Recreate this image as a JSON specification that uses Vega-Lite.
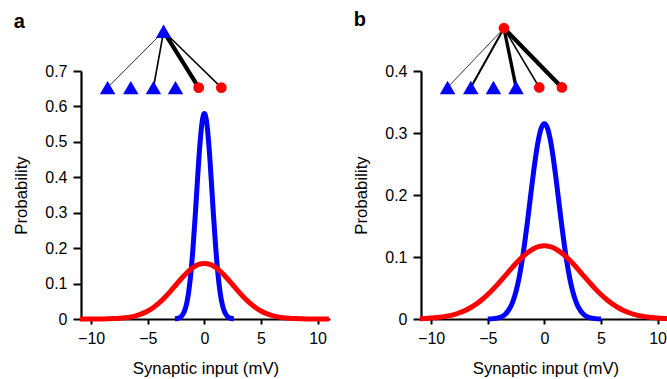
{
  "$schema": "https://vega.github.io/schema/vega-lite/v6.json",
  "padding": {"left": 13, "top": 9, "right": 0, "bottom": 0},
  "config": {
    "font": "Liberation Sans",
    "view": {"stroke": null},
    "axis": {
      "grid": false,
      "domainColor": "black",
      "domainWidth": 2.2,
      "tickColor": "black",
      "tickWidth": 2,
      "labelFont": "Liberation Sans",
      "labelFontSize": 16,
      "labelColor": "black",
      "titleFont": "Liberation Sans",
      "titleFontSize": 16.8,
      "titleFontWeight": "normal",
      "titleColor": "black"
    },
    "axisX": {"tickSize": 5, "labelPadding": 6},
    "axisY": {"tickSize": 8, "labelPadding": 6},
    "title": {"fontSize": 20, "fontWeight": "bold", "font": "Liberation Sans", "anchor": "start", "frame": "bounds", "offset": -7},
    "concat": {"spacing": 14}
  },
  "datasets": {
    "aBlue": [
      {"x": -2.6, "p": 0.0005}, {"x": -2.4, "p": 0.0013}, {"x": -2.2, "p": 0.0035}, {"x": -2.0, "p": 0.0085},
      {"x": -1.8, "p": 0.0189}, {"x": -1.6, "p": 0.0388}, {"x": -1.4, "p": 0.0732}, {"x": -1.2, "p": 0.127},
      {"x": -1.0, "p": 0.202}, {"x": -0.8, "p": 0.295}, {"x": -0.6, "p": 0.397}, {"x": -0.4, "p": 0.49},
      {"x": -0.2, "p": 0.556}, {"x": 0, "p": 0.58}, {"x": 0.2, "p": 0.556}, {"x": 0.4, "p": 0.49},
      {"x": 0.6, "p": 0.397}, {"x": 0.8, "p": 0.295}, {"x": 1.0, "p": 0.202}, {"x": 1.2, "p": 0.127},
      {"x": 1.4, "p": 0.0732}, {"x": 1.6, "p": 0.0388}, {"x": 1.8, "p": 0.0189}, {"x": 2.0, "p": 0.0085},
      {"x": 2.2, "p": 0.0035}, {"x": 2.4, "p": 0.0013}, {"x": 2.6, "p": 0.0005}
    ],
    "aRed": [
      {"x": -11, "p": 0}, {"x": -10.5, "p": 0}, {"x": -10, "p": 0.0001}, {"x": -9.5, "p": 0.0001},
      {"x": -9, "p": 0.0003}, {"x": -8.5, "p": 0.0006}, {"x": -8, "p": 0.0011}, {"x": -7.5, "p": 0.002},
      {"x": -7, "p": 0.0035}, {"x": -6.5, "p": 0.0059}, {"x": -6, "p": 0.0096}, {"x": -5.5, "p": 0.0151},
      {"x": -5, "p": 0.0226}, {"x": -4.5, "p": 0.0327}, {"x": -4, "p": 0.0454}, {"x": -3.5, "p": 0.0608},
      {"x": -3, "p": 0.0782}, {"x": -2.5, "p": 0.0967}, {"x": -2, "p": 0.1151}, {"x": -1.5, "p": 0.1319},
      {"x": -1, "p": 0.1453}, {"x": -0.5, "p": 0.154}, {"x": 0, "p": 0.157}, {"x": 0.5, "p": 0.154},
      {"x": 1, "p": 0.1453}, {"x": 1.5, "p": 0.1319}, {"x": 2, "p": 0.1151}, {"x": 2.5, "p": 0.0967},
      {"x": 3, "p": 0.0782}, {"x": 3.5, "p": 0.0608}, {"x": 4, "p": 0.0454}, {"x": 4.5, "p": 0.0327},
      {"x": 5, "p": 0.0226}, {"x": 5.5, "p": 0.0151}, {"x": 6, "p": 0.0096}, {"x": 6.5, "p": 0.0059},
      {"x": 7, "p": 0.0035}, {"x": 7.5, "p": 0.002}, {"x": 8, "p": 0.0011}, {"x": 8.5, "p": 0.0006},
      {"x": 9, "p": 0.0003}, {"x": 9.5, "p": 0.0001}, {"x": 10, "p": 0.0001}, {"x": 10.5, "p": 0},
      {"x": 11, "p": 0}
    ],
    "bBlue": [
      {"x": -5, "p": 0.0001}, {"x": -4.5, "p": 0.0006}, {"x": -4, "p": 0.0021}, {"x": -3.5, "p": 0.0069},
      {"x": -3, "p": 0.019}, {"x": -2.75, "p": 0.0298}, {"x": -2.5, "p": 0.0448}, {"x": -2.25, "p": 0.0649},
      {"x": -2, "p": 0.0904}, {"x": -1.75, "p": 0.1212}, {"x": -1.5, "p": 0.1561}, {"x": -1.25, "p": 0.1935},
      {"x": -1, "p": 0.2306}, {"x": -0.75, "p": 0.2643}, {"x": -0.5, "p": 0.2914}, {"x": -0.25, "p": 0.309},
      {"x": 0, "p": 0.315}, {"x": 0.25, "p": 0.309}, {"x": 0.5, "p": 0.2914}, {"x": 0.75, "p": 0.2643},
      {"x": 1, "p": 0.2306}, {"x": 1.25, "p": 0.1935}, {"x": 1.5, "p": 0.1561}, {"x": 1.75, "p": 0.1212},
      {"x": 2, "p": 0.0904}, {"x": 2.25, "p": 0.0649}, {"x": 2.5, "p": 0.0448}, {"x": 2.75, "p": 0.0298},
      {"x": 3, "p": 0.019}, {"x": 3.5, "p": 0.0069}, {"x": 4, "p": 0.0021}, {"x": 4.5, "p": 0.0006},
      {"x": 5, "p": 0.0001}
    ],
    "bRed": [
      {"x": -11, "p": 0.0006}, {"x": -10.5, "p": 0.0009}, {"x": -10, "p": 0.0015}, {"x": -9.5, "p": 0.0023},
      {"x": -9, "p": 0.0034}, {"x": -8.5, "p": 0.005}, {"x": -8, "p": 0.0072}, {"x": -7.5, "p": 0.0101},
      {"x": -7, "p": 0.0138}, {"x": -6.5, "p": 0.0186}, {"x": -6, "p": 0.0244}, {"x": -5.5, "p": 0.0314},
      {"x": -5, "p": 0.0395}, {"x": -4.5, "p": 0.0486}, {"x": -4, "p": 0.0586}, {"x": -3.5, "p": 0.069},
      {"x": -3, "p": 0.0796}, {"x": -2.5, "p": 0.0898}, {"x": -2, "p": 0.0991}, {"x": -1.5, "p": 0.1069},
      {"x": -1, "p": 0.113}, {"x": -0.5, "p": 0.1167}, {"x": 0, "p": 0.118}, {"x": 0.5, "p": 0.1167},
      {"x": 1, "p": 0.113}, {"x": 1.5, "p": 0.1069}, {"x": 2, "p": 0.0991}, {"x": 2.5, "p": 0.0898},
      {"x": 3, "p": 0.0796}, {"x": 3.5, "p": 0.069}, {"x": 4, "p": 0.0586}, {"x": 4.5, "p": 0.0486},
      {"x": 5, "p": 0.0395}, {"x": 5.5, "p": 0.0314}, {"x": 6, "p": 0.0244}, {"x": 6.5, "p": 0.0186},
      {"x": 7, "p": 0.0138}, {"x": 7.5, "p": 0.0101}, {"x": 8, "p": 0.0072}, {"x": 8.5, "p": 0.005},
      {"x": 9, "p": 0.0034}, {"x": 9.5, "p": 0.0023}, {"x": 10, "p": 0.0015}, {"x": 10.5, "p": 0.0009},
      {"x": 11, "p": 0.0006}
    ],
    "aNodes": [
      {"x": -8.55, "p": 0.653, "kind": "E"}, {"x": -6.5, "p": 0.653, "kind": "E"},
      {"x": -4.5, "p": 0.653, "kind": "E"}, {"x": -2.55, "p": 0.653, "kind": "E"},
      {"x": -0.5, "p": 0.653, "kind": "I"}, {"x": 1.5, "p": 0.653, "kind": "I"},
      {"x": -3.6, "p": 0.812, "kind": "E"}
    ],
    "aEdges": [
      {"x": -3.6, "p": 0.812, "x2": -8.55, "p2": 0.653, "weight": 1},
      {"x": -3.6, "p": 0.812, "x2": -4.5, "p2": 0.653, "weight": 2},
      {"x": -3.6, "p": 0.812, "x2": -0.5, "p2": 0.653, "weight": 5},
      {"x": -3.6, "p": 0.812, "x2": 1.5, "p2": 0.653, "weight": 1.8}
    ],
    "bNodes": [
      {"x": -8.55, "p": 0.3735, "kind": "E"}, {"x": -6.5, "p": 0.3735, "kind": "E"},
      {"x": -4.5, "p": 0.3735, "kind": "E"}, {"x": -2.5, "p": 0.3735, "kind": "E"},
      {"x": -0.45, "p": 0.3735, "kind": "I"}, {"x": 1.55, "p": 0.3735, "kind": "I"},
      {"x": -3.57, "p": 0.469, "kind": "I"}
    ],
    "bEdges": [
      {"x": -3.57, "p": 0.469, "x2": -8.55, "p2": 0.3735, "weight": 1},
      {"x": -3.57, "p": 0.469, "x2": -6.5, "p2": 0.3735, "weight": 2.5},
      {"x": -3.57, "p": 0.469, "x2": -2.5, "p2": 0.3735, "weight": 4},
      {"x": -3.57, "p": 0.469, "x2": -0.45, "p2": 0.3735, "weight": 2},
      {"x": -3.57, "p": 0.469, "x2": 1.55, "p2": 0.3735, "weight": 5}
    ]
  },
  "hconcat": [
    {
      "title": {"text": "a"},
      "width": 249,
      "height": 248,
      "encoding": {
        "x": {"field": "x", "type": "quantitative", "scale": {"domain": [-10.9, 11.1], "nice": false},
              "axis": {"values": [-10, -5, 0, 5, 10], "title": "Synaptic input (mV)", "titlePadding": 14}},
        "y": {"field": "p", "type": "quantitative", "scale": {"domain": [0, 0.7], "nice": false},
              "axis": {"values": [0, 0.1, 0.2, 0.3, 0.4, 0.5, 0.6, 0.7], "format": ".1~f", "title": "Probability", "titlePadding": 14}}
      },
      "layer": [
        {"data": {"name": "aBlue"}, "mark": {"type": "line", "color": "#0000ff", "strokeWidth": 5, "interpolate": "monotone"}},
        {"data": {"name": "aRed"}, "mark": {"type": "line", "color": "#ff0000", "strokeWidth": 5, "interpolate": "monotone"}},
        {"data": {"name": "aEdges"}, "mark": {"type": "rule", "color": "black"},
         "encoding": {"x2": {"field": "x2"}, "y2": {"field": "p2"},
                      "strokeWidth": {"field": "weight", "type": "quantitative", "scale": {"domain": [1, 5], "range": [0.8, 4.2]}, "legend": null}}},
        {"data": {"name": "aNodes"}, "mark": {"type": "point", "filled": true, "opacity": 1},
         "encoding": {"shape": {"field": "kind", "type": "nominal", "scale": {"domain": ["E", "I"], "range": ["triangle-up", "circle"]}, "legend": null},
                      "size": {"field": "kind", "type": "ordinal", "scale": {"domain": ["E", "I"], "range": [240, 115]}, "legend": null},
                      "color": {"field": "kind", "type": "nominal", "scale": {"domain": ["E", "I"], "range": ["#0000ff", "#ff0000"]}, "legend": null}}}
      ]
    },
    {
      "title": {"text": "b"},
      "width": 249,
      "height": 248,
      "encoding": {
        "x": {"field": "x", "type": "quantitative", "scale": {"domain": [-10.9, 11.1], "nice": false},
              "axis": {"values": [-10, -5, 0, 5, 10], "title": "Synaptic input (mV)", "titlePadding": 14}},
        "y": {"field": "p", "type": "quantitative", "scale": {"domain": [0, 0.4], "nice": false},
              "axis": {"values": [0, 0.1, 0.2, 0.3, 0.4], "format": ".1~f", "title": "Probability", "titlePadding": 14}}
      },
      "layer": [
        {"data": {"name": "bBlue"}, "mark": {"type": "line", "color": "#0000ff", "strokeWidth": 5, "interpolate": "monotone"}},
        {"data": {"name": "bRed"}, "mark": {"type": "line", "color": "#ff0000", "strokeWidth": 5, "interpolate": "monotone"}},
        {"data": {"name": "bEdges"}, "mark": {"type": "rule", "color": "black"},
         "encoding": {"x2": {"field": "x2"}, "y2": {"field": "p2"},
                      "strokeWidth": {"field": "weight", "type": "quantitative", "scale": {"domain": [1, 5], "range": [0.8, 4.2]}, "legend": null}}},
        {"data": {"name": "bNodes"}, "mark": {"type": "point", "filled": true, "opacity": 1},
         "encoding": {"shape": {"field": "kind", "type": "nominal", "scale": {"domain": ["E", "I"], "range": ["triangle-up", "circle"]}, "legend": null},
                      "size": {"field": "kind", "type": "ordinal", "scale": {"domain": ["E", "I"], "range": [240, 115]}, "legend": null},
                      "color": {"field": "kind", "type": "nominal", "scale": {"domain": ["E", "I"], "range": ["#0000ff", "#ff0000"]}, "legend": null}}}
      ]
    }
  ]
}
